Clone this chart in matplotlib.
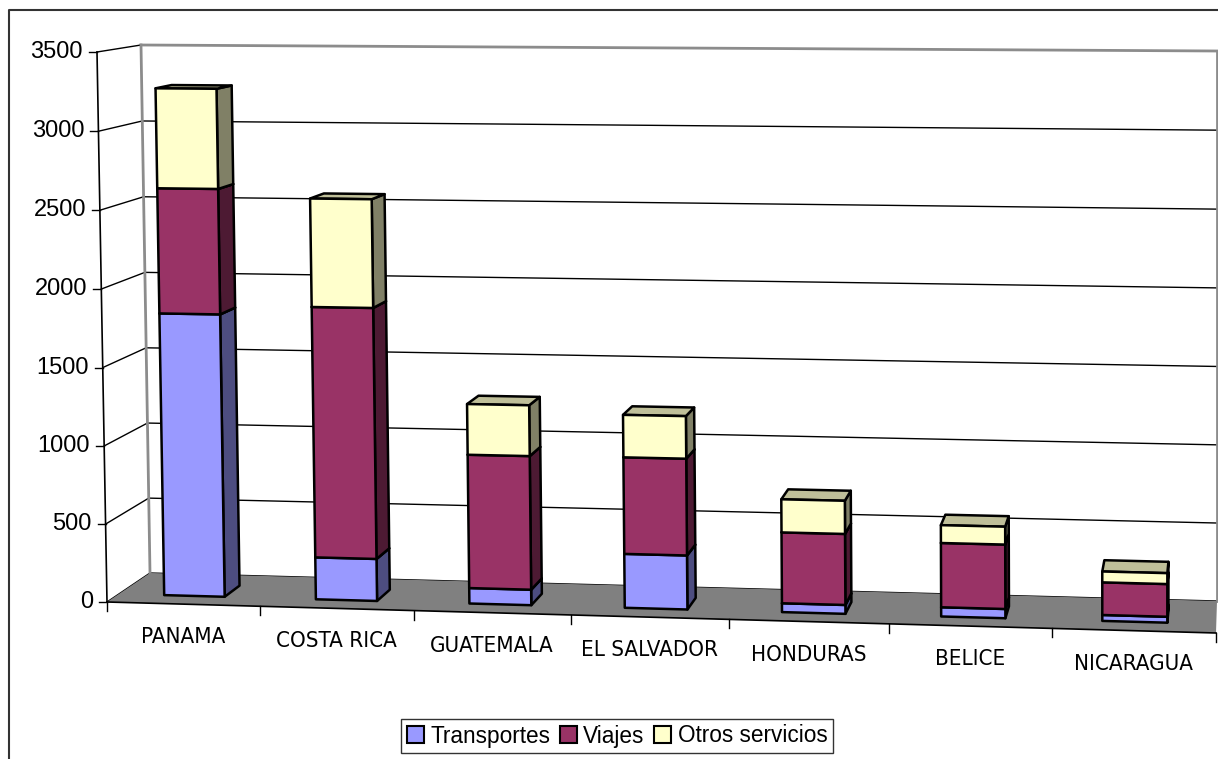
import os
import numpy as np
import matplotlib
matplotlib.use("Agg")
import matplotlib.pyplot as plt
from matplotlib.patches import Polygon, Patch
from matplotlib import font_manager

# Exportaciones de servicios por país (millones de US$)
paises = ["PANAMA", "COSTA RICA", "GUATEMALA", "EL SALVADOR", "HONDURAS", "BELICE", "NICARAGUA"]
transportes = [1818, 270, 99, 343, 56, 58, 37]
viajes = [802, 1605, 852, 613, 448, 404, 204]
otros = [638, 691, 323, 269, 209, 112, 68]
series = ["Transportes", "Viajes", "Otros servicios"]
colores = ["#9999FF", "#993366", "#FFFFCC"]
yticks = [0, 500, 1000, 1500, 2000, 2500, 3000, 3500]
ymax = 3500

W, H = 1218, 759
plt.rcParams["font.family"] = ["Liberation Sans", "DejaVu Sans"]


def narrow_font():
    # condensed face for the country names, if one is installed
    wanted = {"LiberationSansNarrow-Regular.ttf": 17.5, "DejaVuSansCondensed.ttf": 16}
    for f in font_manager.fontManager.ttflist:
        base = os.path.basename(f.fname)
        if base in wanted:
            return font_manager.FontProperties(fname=f.fname, size=wanted[base])
    return font_manager.FontProperties(family="Liberation Sans", size=15)


cat_prop = narrow_font()


def homography(dst):
    # maps the unit square (u, w) onto the four screen corners
    src = [(0, 0), (1, 0), (0, 1), (1, 1)]
    A, b = [], []
    for (u, w), (x, y) in zip(src, dst):
        A.append([u, w, 1, 0, 0, 0, -u * x, -w * x]); b.append(x)
        A.append([0, 0, 0, u, w, 1, -u * y, -w * y]); b.append(y)
    h = np.linalg.solve(np.array(A, float), np.array(b, float))
    return np.append(h, 1).reshape(3, 3)


# front and back planes of the 3-D box (screen pixels)
H_front = homography([(107, 602), (1216, 633), (97, 52), (1217, 59)])
H_back = homography([(150, 573), (1217, 601), (141, 45), (1217, 51)])
ncat = len(paises)


def proj(i, v, t):
    p = np.array([i / ncat, v / ymax, 1.0])
    f = H_front @ p
    k = H_back @ p
    f = f[:2] / f[2]
    k = k[:2] / k[2]
    return (1 - t) * f + t * k


fig = plt.figure(figsize=(W / 100, H / 100), dpi=100)
ax = fig.add_axes([0, 0, 1, 1])
ax.set_xlim(0, W)
ax.set_ylim(H, 0)
ax.axis("off")

# outer chart border
ax.plot([9, 9, W + 5], [H + 5, 10, 10], color="#333333", lw=1.5, zorder=1)

# gridlines on back and side walls
for v in yticks:
    a, b = proj(0, v, 1), proj(ncat, v, 1)
    c = "#8c8c8c" if v == ymax else "black"
    lw = 2.0 if v == ymax else 1.0
    ax.plot([a[0], b[0]], [a[1], b[1]], color=c, lw=lw, zorder=1)
    f = proj(0, v, 0)
    ax.plot([f[0], a[0]], [f[1], a[1]], color="black", lw=1.0, zorder=1)
a, b = proj(0, 0, 1), proj(0, ymax, 1)
ax.plot([a[0], b[0]], [a[1], b[1]], color="#8c8c8c", lw=2.0, zorder=1)
a, b = proj(ncat, 0, 1), proj(ncat, ymax, 1)
ax.plot([a[0], b[0]], [a[1], b[1]], color="#8c8c8c", lw=2.0, zorder=1)

# floor
floor = [proj(0, 0, 0), proj(ncat, 0, 0), proj(ncat, 0, 1), proj(0, 0, 1)]
ax.add_patch(Polygon(floor, closed=True, facecolor="#808080", edgecolor="none", zorder=2))

# value axis
a, b = proj(0, 0, 0), proj(0, ymax, 0)
ax.plot([a[0], b[0]], [a[1], b[1]], color="black", lw=1.2, zorder=3)
for v in yticks:
    p = proj(0, v, 0)
    ax.plot([p[0] - 8, p[0]], [p[1], p[1]], color="black", lw=1.0, zorder=3)
    ax.text(p[0] - 14, p[1], str(v), ha="right", va="center", fontsize=17, zorder=3)

# category axis
a, b = proj(0, 0, 0), proj(ncat, 0, 0)
ax.plot([a[0], b[0]], [a[1], b[1]], color="black", lw=1.2, zorder=3)
for i in range(ncat + 1):
    p = proj(i, 0, 0)
    ax.plot([p[0], p[0]], [p[1], p[1] + 9], color="black", lw=1.0, zorder=3)
for i, nombre in enumerate(paises):
    p = proj(i + 0.5, 0, 0)
    ax.text(p[0], p[1] + 33, nombre, ha="center", va="center",
            fontproperties=cat_prop, zorder=3)


def shade(color, k):
    r, g, b = matplotlib.colors.to_rgb(color)
    return (r * k, g * k, b * k)


# stacked 3-D columns
t0, t1 = 0.28, 0.66
datos = [transportes, viajes, otros]
z = 10
for i in range(ncat):
    x0, x1 = i + 0.3, i + 0.7
    base = 0
    for serie, color in zip(datos, colores):
        lo, hi = base, base + serie[i]
        base = hi
        side = [proj(x1, lo, t0), proj(x1, lo, t1), proj(x1, hi, t1), proj(x1, hi, t0)]
        top = [proj(x0, hi, t0), proj(x1, hi, t0), proj(x1, hi, t1), proj(x0, hi, t1)]
        front = [proj(x0, lo, t0), proj(x1, lo, t0), proj(x1, hi, t0), proj(x0, hi, t0)]
        for poly, fc in ((side, shade(color, 0.5)), (top, shade(color, 0.75)), (front, color)):
            ax.add_patch(Polygon(poly, closed=True, facecolor=fc, edgecolor="black",
                                 lw=1.8, joinstyle="round", zorder=z))
            z += 1

handles = [Patch(facecolor=c, edgecolor="black", lw=1.5) for c in colores]
leg = fig.legend(handles, series, loc="center", bbox_to_anchor=(617 / W, 1 - 736 / H),
                 ncol=3, fontsize=16.3, frameon=True, fancybox=False, handlelength=0.75,
                 handleheight=0.75, handletextpad=0.3, columnspacing=0.4, borderpad=0.25,
                 borderaxespad=0)
leg.get_frame().set_edgecolor("black")
leg.get_frame().set_linewidth(1.0)

plt.savefig("out.png", dpi=100)
